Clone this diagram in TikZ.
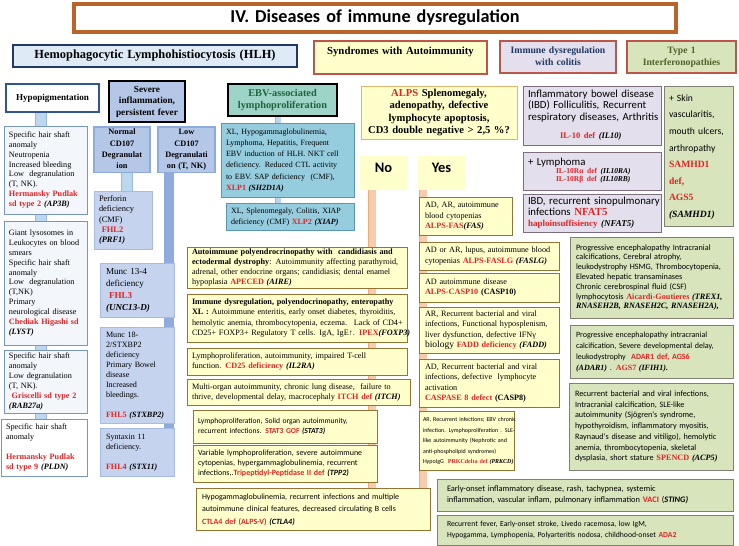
\documentclass[tikz,border=0pt]{standalone}
\usepackage{fontspec}
\setmainfont{Liberation Serif}
\newfontfamily\sansf{Carlito}
\usetikzlibrary{backgrounds}
\definecolor{titlebr}{RGB}{185,100,40}
\definecolor{navy}{RGB}{31,56,100}
\definecolor{navytwo}{RGB}{47,85,151}
\definecolor{hlhfill}{RGB}{222,235,247}
\definecolor{rosebr}{RGB}{190,85,75}
\definecolor{ylw}{RGB}{255,255,204}
\definecolor{lav}{RGB}{228,223,236}
\definecolor{lavb}{RGB}{125,110,125}
\definecolor{grnhdr}{RGB}{216,228,188}
\definecolor{grn}{RGB}{216,228,188}
\definecolor{grnb}{RGB}{128,128,115}
\definecolor{dgreen}{RGB}{79,98,40}
\definecolor{lcol}{RGB}{243,247,252}
\definecolor{lbord}{RGB}{120,150,195}
\definecolor{peri}{RGB}{180,199,231}
\definecolor{perib}{RGB}{143,170,220}
\definecolor{muncf}{RGB}{197,211,238}
\definecolor{muncb}{RGB}{165,187,225}
\definecolor{barblue}{RGB}{143,170,220}
\definecolor{conf}{RGB}{189,215,238}
\definecolor{conb}{RGB}{150,185,220}
\definecolor{ebvf}{RGB}{158,211,200}
\definecolor{ebvt}{RGB}{30,100,60}
\definecolor{xlpf}{RGB}{150,205,222}
\definecolor{xlpb}{RGB}{90,150,180}
\definecolor{ybord}{RGB}{150,115,50}
\definecolor{orbar}{RGB}{248,203,173}
\definecolor{orbarb}{RGB}{240,170,120}
\definecolor{alpsb}{RGB}{225,180,110}
\definecolor{dred}{RGB}{225,35,35}
\newcommand\rd[1]{\textcolor{dred}{\bfseries #1}}
\newcommand\rdr[1]{\textcolor{dred}{\rmfamily\bfseries #1}}
\newcommand\gi[1]{{\bfseries\itshape #1}}
\newcommand\gir[1]{{\rmfamily\bfseries\itshape #1}}
\newcommand\mkbox[8][4]{%
  \pgfmathsetmacro\mktw{#6-2*#1}%
  \node[#3, anchor=north west, inner xsep=#1pt, inner ysep=0pt, outer sep=0pt,
    minimum width=#6pt, minimum height=#7pt, text width=\mktw pt, align=left]
    (#2) at (#4,#5) {\begin{tabular}{@{}l@{}}#8\end{tabular}};}
\newcommand\mkcbox[8][4]{%
  \pgfmathsetmacro\mktw{#6-2*#1}%
  \node[#3, anchor=north west, inner xsep=#1pt, inner ysep=0pt, outer sep=0pt,
    minimum width=#6pt, minimum height=#7pt, text width=\mktw pt, align=center]
    (#2) at (#4,#5) {\begin{tabular}{@{}c@{}}#8\end{tabular}};}
\begin{document}
\begin{tikzpicture}[x=1pt,y=-1pt,
  ttl/.style={draw=titlebr, line width=3.5pt, fill=white, font=\sansf\bfseries\fontsize{18.2}{21}\selectfont},
  hdr/.style={line width=2.2pt, font=\bfseries\fontsize{9.7}{11.5}\selectfont},
  lbox/.style={draw=lbord, line width=0.8pt, fill=lcol, font=\fontsize{8.2}{9.9}\selectfont},
  mbox/.style={draw=muncb, line width=0.6pt, fill=muncf, font=\fontsize{8.1}{10}\selectfont},
  xbox/.style={draw=xlpb, line width=0.8pt, fill=xlpf, font=\fontsize{8}{11.3}\selectfont},
  ybox/.style={draw=ybord, line width=0.9pt, fill=ylw, font=\fontsize{8.2}{10}\selectfont},
  ysans/.style={ybox, font=\sansf\fontsize{7.6}{10}\selectfont},
  ycol/.style={ybox, font=\fontsize{8.2}{10.2}\selectfont},
  lavbox/.style={draw=lavb, line width=0.8pt, fill=lav, font=\sansf\fontsize{10.8}{11.5}\selectfont},
  gbox/.style={draw=grnb, line width=0.8pt, fill=grn, font=\sansf\fontsize{8.2}{9.8}\selectfont},
  conn/.style={draw=conb, line width=0.6pt, double=conf, double distance=10pt},
  sconn/.style={draw=conb, line width=0.5pt, double=conf, double distance=5pt},
  obar/.style={draw=orbarb, line width=0.7pt, double=orbar, double distance=7pt},
  bbar/.style={draw=barblue, line width=10pt}]
\useasboundingbox (0,0) rectangle (739,546);

% headers
\mkcbox{title}{ttl}{74}{4}{602}{28}{IV. Diseases of immune dysregulation}
\mkcbox{hlh}{hdr, draw=navy, fill=hlhfill, font=\bfseries\fontsize{12.4}{14}\selectfont}{13}{45}{284}{22}{Hemophagocytic Lymphohistiocytosis (HLH)}
\mkcbox{synd}{hdr, draw=rosebr, fill=ylw, font=\bfseries\fontsize{10.8}{12.5}\selectfont}{314}{41}{173}{33}{Syndromes with Autoimmunity\\[12pt]}
\mkcbox[3]{colit}{hdr, draw=rosebr, fill=lav, text=navy}{500}{41}{116}{32}{Immune dysregulation\\with colitis}
\mkcbox{typ1}{hdr, draw=rosebr, fill=grnhdr, text=dgreen}{627}{41}{109}{32}{Type 1\\Interferonopathies}

% HLH part
\mkcbox{hypo}{hdr, line width=2pt, draw=navytwo, fill=white, font=\bfseries\fontsize{9.1}{10}\selectfont}{6}{84}{93}{28}{Hypopigmentation}
\mkcbox[2]{severe}{hdr, line width=2.5pt, draw=black, fill=peri, font=\bfseries\fontsize{9.3}{11.5}\selectfont}{109}{81}{76}{41}{Severe\\inflammation,\\persistent fever}
\mkcbox[2]{normal}{hdr, line width=1.2pt, draw=perib, fill=peri, font=\bfseries\fontsize{8.3}{11.3}\selectfont}{94}{127}{56}{45}{Normal\\CD107\\Degranulat\\ion}
\mkcbox[2]{low}{hdr, line width=1.2pt, draw=perib, fill=peri, font=\bfseries\fontsize{8.3}{11.3}\selectfont}{158}{127}{57}{45}{Low\\CD107\\Degranulati\\on (T, NK)}
\mkcbox[2]{ebv}{hdr, line width=2.5pt, draw=black, fill=ebvf, text=ebvt, font=\bfseries\fontsize{10.3}{12.5}\selectfont}{228}{84}{109}{32}{EBV-associated\\lymphoproliferation}

\mkbox[5]{xlpA}{xbox}{221}{123}{133}{74}{XL, Hypogammaglobulinemia,\\Lymphoma, Hepatitis, Frequent\\EBV induction of HLH. NKT cell\\deficiency. Reduced CTL activity\\to EBV. SAP deficiency~ (CMF),\\\rd{XLP1} \gi{(SH2D1A)}}
\mkbox[5]{xlpB}{xbox, font=\fontsize{8}{11}\selectfont}{226}{203}{128}{27}{XL, Splenomegaly, Colitis, XIAP\\deficiency (CMF) \rd{XLP2} \gi{(XIAP)}}

\mkbox[5]{lA}{lbox}{4}{126}{83}{88}{Specific hair shaft\\anomaly\\Neutropenia\\Increased bleeding\\Low~ degranulation\\(T, NK).\\\rd{Hermansky Pudlak}\\\rd{sd type 2} \gi{(AP3B)}}
\mkbox[5]{lB}{lbox}{4}{221}{83}{124}{Giant lysosomes in\\Leukocytes on blood\\smears\\Specific hair shaft\\anomaly\\Low~ degranulation\\(T,NK)\\Primary\\neurological disease\\\rd{Chediak Higashi sd}\\\gi{(LYST)}}
\mkbox[5]{lC}{lbox}{4}{350}{83}{63}{Specific hair shaft\\anomaly\\Low degranulation\\(T, NK).\\\ \rd{Griscelli sd type 2}\\\gi{(RAB27a)}}
\mkbox[5]{lD}{lbox, fill=white, line width=1pt}{1}{419}{86}{57}{Specific hair shaft\\anomaly\\[9.9pt]\rd{Hermansky Pudlak}\\\rd{sd type 9} \gi{(PLDN)}}

\mkbox[5]{perf}{mbox, font=\fontsize{8.4}{10.3}\selectfont}{94}{191}{58}{58}{Perforin\\deficiency\\(CMF)\\\ \rd{FHL2}\\\gi{(PRF1)}}
\mkbox[6]{muncA}{mbox, font=\fontsize{9.1}{12}\selectfont}{100}{263}{74}{54}{Munc 13-4\\deficiency\\\ \rd{FHL3}\\\gi{(UNC13-D)}}
\mkbox[6]{muncB}{mbox}{100}{327}{74}{96}{Munc 18-\\2/STXBP2\\deficiency\\Primary Bowel\\disease\\Increased\\bleedings.\\[10pt]\rd{FHL5} \gi{(STXBP2)}}
\mkbox[6]{synt}{mbox}{100}{428}{74}{48}{Syntaxin 11\\deficiency.\\[10pt]\rd{FHL4} \gi{(STX11)}}

% autoimmunity
\mkcbox[3]{alps}{draw=alpsb, line width=0.8pt, fill=ylw, font=\bfseries\fontsize{10.6}{12.3}\selectfont}{361}{86}{156}{53}{\textcolor{dred}{ALPS} Splenomegaly,\\adenopathy, defective\\lymphocyte apoptosis,\\CD3 double negative > 2,5 \%?}
\mkcbox{no}{fill=ylw, font=\sansf\bfseries\fontsize{14.5}{16}\selectfont}{360}{156}{47}{34}{No\\[8pt]}
\mkcbox{yes}{fill=ylw, font=\sansf\bfseries\fontsize{14.5}{16}\selectfont}{418}{156}{47}{34}{Yes\\[8pt]}

\mkbox[5]{apeced}{ybox}{187}{247}{220}{41}{\textbf{Autoimmune polyendrocrinopathy with~ candidiasis and}\\\textbf{ectodermal dystrophy}: Autoimmunity affecting parathyroid,\\adrenal, other endocrine organs; candidiasis; dental enamel\\hypoplasia \rd{APECED} \gi{(AIRE)}}
\mkbox[5]{ipex}{ybox, font=\fontsize{8.2}{10.5}\selectfont}{187}{294}{220}{48}{\textbf{Immune dysregulation, polyendocrinopathy, enteropathy}\\\textbf{XL :} Autoimmune enteritis, early onset diabetes, thyroiditis,\\hemolytic anemia, thrombocytopenia, eczema.~ Lack of CD4+\\CD25+ FOXP3+ Regulatory T cells. IgA, IgE↑. \rd{IPEX}\gi{(FOXP3)}}
\mkbox[5]{cdtf}{ybox}{187}{348}{220}{27}{Lymphoproliferation, autoimmunity, impaired T-cell\\function. \rd{CD25 deficiency} \gi{(IL2RA)}}
\mkbox[5]{itch}{ybox}{187}{379}{223}{26}{Multi-organ autoimmunity, chronic lung disease,~ failure to\\thrive, developmental delay, macrocephaly \rd{ITCH def} \gi{(ITCH)}}
\mkbox[5]{stat}{ysans}{193}{410}{184}{33}{Lymphoproliferation, Solid organ autoimmunity,\\recurrent infections. \rd{STAT3 GOF} \gi{(STAT3)}}
\mkbox[5]{tpp}{ysans, font=\sansf\fontsize{8}{10}\selectfont}{193}{445}{184}{37}{Variable lymphoproliferation, severe autoimmune\\cytopenias, hypergammaglobulinemia, recurrent\\infections,.\rd{Tripeptidyl-Peptidase II def} \gi{(TPP2)}}
\mkbox[6]{ctla}{ysans, font=\sansf\fontsize{8}{12.5}\selectfont}{196}{488}{234}{42}{Hypogammaglobulinemia, recurrent infections and multiple\\autoimmune clinical features, decreased circulating B cells\\\rd{CTLA4 def (ALPS-V)} \gi{(CTLA4)}}

\mkbox[6]{fas}{ycol}{419}{197}{93}{38}{AD, AR, autoimmune\\blood cytopenias\\\rd{ALPS-FAS}\gi{(FAS)}}
\mkbox[6]{faslg}{ycol}{419}{242}{140}{28}{AD or AR, lupus, autoimmune blood\\cytopenias \rd{ALPS-FASLG} \gi{(FASLG)}}
\mkbox[6]{caspt}{ycol}{419}{273}{140}{29}{AD autoimmune disease\\\rd{ALPS-CASP10} \textbf{(CASP10)}}
\mkbox[6]{fadd}{ycol}{419}{307}{140}{46}{AR, Recurrent bacterial and viral\\infections, Functional hyposplenism,\\liver dysfunction, defective IFNγ\\{\fontsize{9.5}{10}\selectfont biology} \rd{FADD deficiency} \gi{(FADD)}}
\mkbox[6]{caspe}{ycol}{419}{359}{140}{48}{AD, Recurrent bacterial and viral\\infections, defective~ lymphocyte\\activation\\\rd{CASPASE 8 defect} \textbf{(CASP8)}}
\mkbox[4]{prkcd}{ysans, font=\sansf\fontsize{6}{10.5}\selectfont}{419}{411}{95}{59}{AR, Recurrent infections; EBV chronic\\infection. Lymphoproliferation . SLE-\\like autoimmunity (Nephrotic and\\anti-phospholipid syndromes)\\HypoIgG~ \rdr{PRKCdelta def} \gir{(PRKCD)}}

% colitis
\mkbox[5]{cA}{lavbox}{523}{86}{138}{59}{Inflammatory bowel disease\\(IBD) Folliculitis, Recurrent\\respiratory diseases, Arthritis\\[7pt]\hspace*{32pt}{\fontsize{8.5}{10}\selectfont\rdr{IL-10 def} \gir{(IL10)}}}
\mkbox[5]{cB}{lavbox, font=\sansf\fontsize{10.8}{8.2}\selectfont}{523}{152}{138}{38}{+ Lymphoma\\\hspace*{28pt}{\fontsize{7.5}{8}\selectfont\rdr{IL-10Rα def} \gir{(IL10RA)}}\\\hspace*{28pt}{\fontsize{7.5}{8}\selectfont\rdr{IL-10Rβ def} \gir{(IL10RB)}}}
\mkbox[5]{cC}{lavbox, font=\sansf\fontsize{10.8}{11}\selectfont}{523}{194}{138}{38}{IBD, recurrent sinopulmonary\\infections \rdr{NFAT5}\\{\fontsize{9}{10}\selectfont\rdr{haploinsuffisiency} \gir{(NFAT5)}}}

% interferonopathies
\mkbox[5]{tA}{gbox, font=\sansf\fontsize{9.6}{16.6}\selectfont}{664}{86}{69}{140}{+ Skin\\vascularitis,\\mouth ulcers,\\arthropathy\\\rdr{SAMHD1}\\\rdr{def,}\\\rdr{AGS5}\\\gir{(SAMHD1)}}
\mkbox[6]{tB}{gbox}{570}{237}{163}{81}{Progressive encephalopathy Intracranial\\calcifications, Cerebral atrophy,\\leukodystrophy HSMG, Thrombocytopenia,\\Elevated hepatic transaminases\\Chronic cerebrospinal fluid (CSF)\\lymphocytosis \rdr{Aicardi-Goutieres} \gir{(TREX1,}\\\gir{RNASEH2B, RNASEH2C, RNASEH2A),}}
\mkbox[6]{tC}{gbox, font=\sansf\fontsize{8}{11}\selectfont}{570}{325}{163}{53}{Progressive encephalopathy intracranial\\calcification, Severe developmental delay,\\leukodystrophy~ \rd{ADAR1 def, AGS6}\\\gir{(ADAR1)} . \rdr{AGS7} \gir{(IFIH1).}}
\mkbox[6]{tD}{gbox, font=\sansf\fontsize{8.2}{10.7}\selectfont}{569}{383}{164}{87}{Recurrent bacterial and viral infections,\\Intracranial calcification, SLE-like\\autoimmunity (Sjögren's syndrome,\\hypothyroidism, inflammatory myositis,\\Raynaud's disease and vitiligo), hemolytic\\anemia, thrombocytopenia, skeletal\\dysplasia, short stature \rdr{SPENCD} \gir{(ACP5)}}
\mkbox[10]{tE}{gbox, font=\sansf\fontsize{8.4}{11}\selectfont}{437}{479}{296}{32}{Early-onset inflammatory disease, rash, tachypnea, systemic\\inflammation, vascular inflam, pulmonary inflammation \rd{VACI} (\gi{STING)}}
\mkbox[10]{tF}{gbox, font=\sansf\fontsize{7.7}{11}\selectfont}{437}{515}{296}{30}{Recurrent fever, Early-onset stroke, Livedo racemosa, low IgM,\\Hypogamma, Lymphopenia, Polyarteritis nodosa, childhood-onset \rd{ADA2}}

% connectors
\coordinate (cl) at (41,0);
\coordinate (cn) at (127,0);
\coordinate (lb) at (169,0);
\coordinate (ce) at (278,0);
\coordinate (nb) at (372,0);
\coordinate (yb) at (423,0);
\begin{scope}[on background layer]
\draw[conn] (hypo.south -| cl) -- (lA.north -| cl);
\draw[conn] (lA.south -| cl) -- (lB.north -| cl);
\draw[conn] (lB.south -| cl) -- (lC.north -| cl);
\draw[conn] (lC.south -| cl) -- (lD.north -| cl);
\draw[conn] (normal.south -| cn) -- (perf.north -| cn);
\draw[bbar] (low.south -| lb) -- (synt.north -| lb);
\draw[sconn] (ebv.south -| ce) -- (xlpA.north -| ce);
\draw[sconn] (xlpA.south -| ce) -- (xlpB.north -| ce);
\draw[obar] (no.south -| nb) -- (ctla.north -| nb);
\draw[obar] (yes.south -| yb) -- (ctla.north -| yb);
\end{scope}
\end{tikzpicture}
\end{document}
